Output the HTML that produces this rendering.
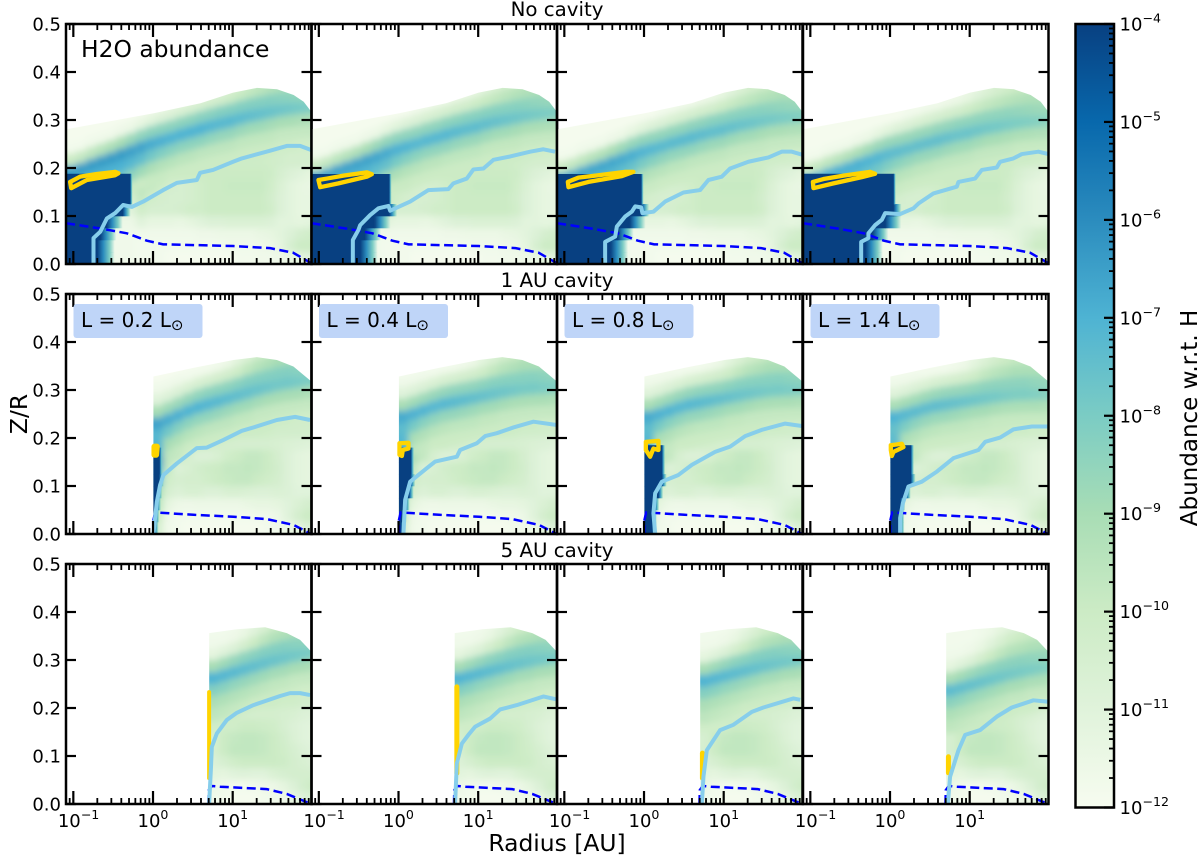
<!DOCTYPE html>
<html lang="en">
<head>
<meta charset="utf-8">
<title>H2O abundance panels</title>
<style>
html,body{margin:0;padding:0;background:#fff;}
svg{display:block;font-family:"DejaVu Sans","Liberation Sans",sans-serif;}
</style>
</head>
<body>
<svg id="figure" xmlns="http://www.w3.org/2000/svg" width="1200" height="856" viewBox="0 0 1200 856">
  <defs id="defs">
    <filter id="heatBlur" filterUnits="userSpaceOnUse" x="0" y="0" width="1200" height="856">
      <feGaussianBlur stdDeviation="3.5"/>
    </filter>
    <linearGradient id="fringeGradient" x1="0" x2="1" y1="0" y2="0">
      <stop offset="0" stop-color="#084081"/>
      <stop offset="0.35" stop-color="#2b8cbe"/>
      <stop offset="0.7" stop-color="#7bccc4"/>
      <stop offset="1" stop-color="#7bccc4" stop-opacity="0"/>
    </linearGradient>
    <linearGradient id="colorbarGradient" x1="0" x2="0" y1="1" y2="0">
      <stop offset="0" stop-color="#f7fcf0"/>
      <stop offset="0.125" stop-color="#e0f3db"/>
      <stop offset="0.25" stop-color="#ccebc5"/>
      <stop offset="0.375" stop-color="#a8ddb5"/>
      <stop offset="0.5" stop-color="#7bccc4"/>
      <stop offset="0.625" stop-color="#4eb3d3"/>
      <stop offset="0.75" stop-color="#2b8cbe"/>
      <stop offset="0.875" stop-color="#0868ac"/>
      <stop offset="1" stop-color="#084081"/>
    </linearGradient>
  </defs>
  <rect x="0" y="0" width="1200" height="856" fill="#ffffff"/>
  <g id="panels"></g>
  <g id="labelBoxes">
    <rect x="73.5" y="304" width="129" height="34" rx="3" fill="#bfd5f8"/>
    <text x="81" y="327" font-size="20" fill="#000">L = 0.2 L<tspan font-size="15" dy="3">⊙</tspan></text>
    <rect x="319" y="304" width="129" height="34" rx="3" fill="#bfd5f8"/>
    <text x="326.5" y="327" font-size="20" fill="#000">L = 0.4 L<tspan font-size="15" dy="3">⊙</tspan></text>
    <rect x="564.5" y="304" width="129" height="34" rx="3" fill="#bfd5f8"/>
    <text x="572" y="327" font-size="20" fill="#000">L = 0.8 L<tspan font-size="15" dy="3">⊙</tspan></text>
    <rect x="810.5" y="304" width="129" height="34" rx="3" fill="#bfd5f8"/>
    <text x="818" y="327" font-size="20" fill="#000">L = 1.4 L<tspan font-size="15" dy="3">⊙</tspan></text>
  </g>
  <text x="81" y="57" font-size="23.4" fill="#000">H2O abundance</text>
  <text x="557" y="16" font-size="19.8" text-anchor="middle" fill="#000">No cavity</text>
  <text x="557" y="287" font-size="19.8" text-anchor="middle" fill="#000">1 AU cavity</text>
  <text x="557" y="557" font-size="19.8" text-anchor="middle" fill="#000">5 AU cavity</text>
  <text x="557" y="851" font-size="23.4" text-anchor="middle" fill="#000">Radius [AU]</text>
  <text x="0" y="0" transform="translate(27,414) rotate(-90)" font-size="23.4" text-anchor="middle" fill="#000">Z/R</text>
  <g id="colorbar"></g>
  <text x="0" y="0" transform="translate(1197,418) rotate(-90)" font-size="23" text-anchor="middle" fill="#000">Abundance w.r.t. H</text>
</svg>
<script>
const colormapStops = ['#f7fcf0','#e0f3db','#ccebc5','#a8ddb5','#7bccc4','#4eb3d3','#2b8cbe','#0868ac','#084081'];
const yTickValues = [0.0,0.1,0.2,0.3,0.4,0.5];
const yTickLabels = ['0.0','0.1','0.2','0.3','0.4','0.5'];
const xMajorExponents = [-1,0,1];
const xMinorDecades = [-2,-1,0,1];
const xMinorMultipliers = [2,3,4,5,6,7,8,9];
const colorbarExponents = [-4,-5,-6,-7,-8,-9,-10,-11,-12];

/* Heatmap background: decades above 1e-12, rows listed from z = 0.2125 down to z = 0.0125 in 0.025 steps. */
const gridStartLogR = [-1.09, 0.0, 0.7];
const noCavityLevels = [
[5,5,5,5,5,5,5,3.5,1.9,1.9,1.9,1.9,1.9,1.9,1.9,1.9,1.9,1.9,1.9,1.9,1.8,1.7,1.6,1.6,1.6],
[6.5,6.5,6.5,6.5,6.5,6.5,6.5,5,3,2.4,2.1,2,2,2,2,2,2,2,2,2,1.9,1.5,1.2,1,.8],
[1.5,1.5,1.5,1.5,1.5,1.5,1.5,2.8,2.2,1.9,1.6,1.5,1.6,1.8,2,2,2.1,2.1,2.1,2.1,1.8,1.3,.9,.7,.6],
[1.5,1.5,1.5,1.5,1.5,1.5,1.5,2.2,1.8,1.6,1.5,1.5,1.6,1.8,2,2,2,2,2,2,1.7,1.2,.9,.7,.7],
[1,1,1,1,1,1,1,1.8,1.5,1.5,1.5,1.6,1.8,1.8,2,2,2,2,2,2,1.8,1.2,.9,.7,.7],
[.5,.5,.5,.5,.5,.5,.5,1,.7,.7,.7,.6,.8,1,1.2,1.2,1.3,1.3,1.3,1.3,1.2,.9,.9,.8,.9],
[.3,.3,.3,.3,.3,.3,.3,.3,.3,.3,.3,.3,.3,.4,.4,.5,.5,.5,.5,.6,.7,.9,1.2,1.6,1.8],
[.3,.3,.3,.3,.3,.3,.3,.2,.2,.2,.2,.2,.2,.2,.2,.2,.3,.3,.3,.4,.5,.8,1.5,2,2],
[.3,.3,.3,.3,.3,.3,.3,.2,.2,.2,.1,.1,.1,.1,.1,.1,.1,.2,.2,.3,.3,.4,.6,.8,1]
];
const oneAuLevels = [
[5.6,3,2.4,2.1,2,1.9,1.9,1.9,1.9,1.9,1.9,1.8,1.7,1.7,1.7,1.7],
[6.2,3.4,2.6,2.2,2,1.7,1.6,1.5,1.5,1.5,1.5,1.5,1.4,1.3,1.2,1.1],
[6,3,2.2,1.5,1.2,1.2,1.4,1.8,2,2.2,2.2,2,1.6,1.2,.9,.8],
[5,2.2,1.2,1.4,1.7,1.9,2,2.2,2.2,2.3,2.2,2,1.7,1.2,.9,.8],
[4.5,1.8,1.5,1.6,1.6,1.8,2,2.1,2.2,2.2,2,1.8,1.6,1.2,.9,.8],
[3,1.5,1.2,1.4,1.4,1.2,1.2,1.4,1.4,1.3,1.2,1.2,1.3,1.2,1,1],
[2.5,.8,.5,.4,.5,.5,.5,.5,.5,.6,.7,.7,.8,1,1.3,1.6],
[2,.4,.2,.2,.2,.2,.2,.2,.2,.2,.3,.3,.5,1,1.6,2],
[1.5,.3,.2,.1,.1,.1,.1,.1,.1,.1,.1,.2,.3,.5,.8,1.2]
];
const fiveAuLevels = [
[2.6,2.4,2.2,2.1,2,1.9,1.9,1.8,1.8,1.7,1.7],
[2.2,2,1.8,1.6,1.6,1.6,1.6,1.5,1.4,1.2,1.1],
[1.8,1.8,1.8,2,2,1.9,1.8,1.5,1.2,1,.9],
[1.5,2,2.2,2.3,2.3,2.2,2,1.7,1.3,1,.9],
[1.5,2,2.3,2.3,2.3,2.2,2,1.8,1.5,1.2,1],
[1.2,1.5,1.8,2,2,2,2,1.9,1.6,1.4,1.2],
[.9,.8,1,1.1,1,1,1.3,1.5,1.6,1.6,1.6],
[.5,.3,.2,.2,.3,.4,.5,.8,1.2,1.7,2],
[.3,.2,.1,.1,.1,.2,.3,.4,.7,1.1,1.4]
];
const rowLevels = [noCavityLevels, oneAuLevels, fiveAuLevels];

/* Bright water band: column-wise ridge height and levels at fixed distances above / below that ridge */
const bandRowOffsets = [.1,.075,.05,.025,0,-.025,-.05,-.075];
const noCavityBandCenter = [.192,.198,.206,.213,.22,.228,.235,.243,.25,.256,.262,.269,.275,.281,.287,.292,.297,.303,.308,.312,.316,.32,.323,.325,.327];
const oneAuBandCenter = [.23,.238,.247,.256,.264,.27,.276,.282,.288,.294,.3,.305,.31,.314,.317,.32];
const fiveAuBandCenter = [.262,.268,.274,.28,.286,.292,.298,.303,.308,.312,.315];
const bandCenters = [noCavityBandCenter, oneAuBandCenter, fiveAuBandCenter];
const noCavityBand = [
[.1,.1,.1,.1,.1,.1,.1,.1,.1,.1,.1,.1,.1,.1,.1,.1,.2,.3,.6,.8,1,1.2,1.3,1.4,1.4],
[.1,.1,.1,.1,.1,.1,.1,.1,.1,.1,.2,.2,.3,.3,.4,.5,.7,1,1.3,1.6,1.8,2,2.1,2.2,2.2],
[.2,.2,.3,.3,.3,.4,.5,.7,.9,1.1,1.2,1.3,1.4,1.5,1.6,1.7,1.9,2.1,2.3,2.5,2.7,2.8,2.9,2.9,2.9],
[2,2.2,2.4,2.6,2.8,3,3.3,3.5,3.6,3.6,3.6,3.6,3.6,3.7,3.7,3.8,3.8,3.8,3.8,3.8,3.8,3.7,3.6,3.5,3.4],
[5.6,5.6,5.6,5.6,5.6,5.6,5.5,5.4,5.2,5.1,5,5,5,5,4.9,4.8,4.8,4.7,4.6,4.5,4.4,4.3,4.2,4.1,4],
[5,5,5,5,5,5,4.8,4.6,4.2,3.9,3.7,3.6,3.6,3.6,3.5,3.4,3.4,3.3,3.2,3.2,3.1,3,3,2.9,2.9],
[4,4,4,4,4,4,3.6,3.2,2.9,2.7,2.6,2.5,2.5,2.4,2.4,2.4,2.4,2.3,2.3,2.3,2.3,2.2,2.2,2.2,2.2],
[2,2,2,2,2,2,2,2,2.1,2.1,2,2,2,2,2,2,2,2,2,2,2,1.9,1.9,1.8,1.8]
];
const oneAuBand = [
[0,0,0,0,0,0,.1,.2,.4,.6,.8,1,1.2,1.4,1.5,1.5],
[.3,.3,.3,.2,.2,.2,.3,.5,.9,1.3,1.7,2,2.2,2.3,2.4,2.4],
[1,1.1,1.2,1.3,1.4,1.5,1.6,1.7,1.9,2.3,2.6,2.8,3,3,3,3],
[3,3.2,3.3,3.4,3.5,3.6,3.6,3.6,3.7,3.8,3.8,3.8,3.8,3.8,3.7,3.6],
[5.4,5.2,5.1,5,5,4.9,4.8,4.7,4.6,4.5,4.4,4.3,4.2,4.2,4.1,4],
[4.8,4.2,3.8,3.6,3.5,3.5,3.4,3.3,3.2,3.2,3.1,3,3,3,3,2.9],
[5,3,2.8,2.6,2.5,2.4,2.4,2.4,2.3,2.3,2.2,2.2,2.2,2.2,2.2,2.2],
[5.6,2.4,2.2,2,2,2,2,2,2,2,2,2,1.9,1.9,1.8,1.8]
];
const fiveAuBand = [
[.2,.2,.2,.3,.5,.8,1,1.2,1.3,1.4,1.4],
[.3,.3,.4,.6,1,1.4,1.8,2,2.1,2.2,2.2],
[.8,1,1.2,1.6,2,2.4,2.7,2.8,2.9,2.9,2.9],
[3,3.2,3.4,3.6,3.7,3.8,3.8,3.8,3.7,3.6,3.5],
[5,4.9,4.8,4.7,4.6,4.5,4.4,4.3,4.2,4.1,4],
[3.8,3.7,3.5,3.4,3.3,3.2,3.1,3.1,3,3,2.9],
[2.9,2.8,2.7,2.6,2.5,2.4,2.3,2.3,2.2,2.2,2.2],
[2.4,2.3,2.2,2.1,2,2,2,1.9,1.9,1.8,1.8]
];
const bandLevels = [noCavityBand, oneAuBand, fiveAuBand];

/* Band strength and vertical drift per panel, per cavity row */
const bandStrength = [[1,.95,.92,.85],[1,.95,.95,.88],[1,1,1,.9]];
const bandDriftInner = [[0,-.012,-.015,-.018],[0,.015,.015,.015],[0,0,-.005,-.025]];
const bandDriftOuter = [[0,-.012,-.02,-.028],[0,-.015,-.02,-.03],[0,-.01,-.015,-.03]];

/* Upper boundary of the computed disk */
const diskTopLogR = [
[-1.09,.009,.595,1.005,1.305,1.556,1.765,1.891,1.988,2.1],
[.005,.507,1.009,1.303,1.554,1.762,1.971,2.1],
[.705,1.052,1.407,1.679,1.846,1.971,2.1]
];
const diskTopZ = [
[.2806,.314,.335,.357,.367,.364,.352,.338,.317,.31],
[.328,.346,.3625,.3685,.3625,.349,.32,.31],
[.356,.364,.3682,.356,.342,.32,.31]
];
const cavityLogR = [null,.005,.705];

/* Saturated water reservoir: outer edge (log R) for each 0.025-thick layer from the midplane up, by panel */
const reservoirEdge = [
[[-.70,-.70,-.66,-.58,-.38,-.287,-.287,-.287],[-.48,-.48,-.42,-.30,-.118,-.118,-.118,-.118],[-.42,-.42,-.33,-.18,-.036,-.036,-.036,-.036],[-.31,-.31,-.22,-.06,.043,.043,.043,.043]],
[[.01,.02,.04,.055,.075,.08,.08,.08],[.03,.04,.08,.13,.15,.155,.155,.155],[.1,.1,.13,.18,.224,.224,.224,.224],[.12,.12,.13,.2,.26,.26,.26,.26]],
[null,null,null,null]
];
const reservoirFringe = [
[.22,.22,.2,.2,.1,.03,.03,.03],
[.06,.06,.06,.06,.06,.04,.04,.04],
[0,0,0,0,0,0,0,0]
];
const reservoirTop = [[.188,.1875,.1875,.188],[.18,.18,.185,.185],[0,0,0,0]];

/* Contour: light blue line */
const skyLineLogR = [
[[-.747,-.747,-.663,-.579,-.475,-.375,-.266,-.124,.127,.299,.55,.591,.754,1.005,1.115,1.47,1.679,1.846,1.984],
 [-.573,-.573,-.503,-.481,-.356,-.252,-.126,-.105,.146,.375,.626,.689,.857,.94,1.066,1.191,1.401,1.652,1.818,1.965],
 [-.488,-.488,-.362,-.341,-.237,-.153,-.111,-.036,-.02,.118,.265,.495,.704,.808,.976,1.081,1.31,1.561,1.729,1.855,1.997],
 [-.362,-.362,-.271,-.271,-.187,-.103,-.061,.127,.294,.357,.545,.838,.859,1.068,1.152,1.34,1.382,1.549,1.654,1.862,1.988]],
[[.005,.048,.089,.131,.299,.55,.675,.884,1.115,1.26,1.554,1.783,1.971],
 [.062,.083,.146,.355,.46,.732,.773,.983,1.087,1.234,1.442,1.693,1.987],
 [.14,.118,.14,.224,.432,.6,.892,1.081,1.269,1.478,1.771,1.98],
 [.127,.127,.161,.231,.399,.588,.796,1.11,1.194,1.382,1.549,1.78,1.988]],
[[.704,.726,.738,.801,.926,1.052,1.26,1.595,1.72,1.846,1.971],
 [.71,.732,.795,.877,.961,1.15,1.275,1.485,1.818,1.978],
 [.726,.746,.788,.955,1.122,1.353,1.498,1.875,1.96],
 [.726,.754,.859,.943,1.131,1.34,1.528,1.8,1.988]]
];
const skyLineZ = [
[[.002,.054,.067,.095,.106,.123,.119,.13,.154,.169,.175,.19,.196,.213,.22,.236,.246,.246,.2375],
 [.001,.05,.071,.081,.102,.116,.121,.111,.13,.154,.156,.168,.178,.197,.199,.217,.224,.234,.239,.234],
 [.001,.046,.057,.078,.099,.109,.12,.118,.106,.109,.13,.149,.154,.175,.182,.199,.213,.222,.234,.234,.227],
 [.001,.046,.054,.064,.081,.092,.106,.104,.116,.126,.147,.161,.171,.178,.196,.201,.213,.22,.229,.234,.229]],
[[.001,.067,.102,.123,.147,.179,.18,.196,.215,.222,.2375,.244,.2375],
 [.001,.071,.109,.137,.151,.161,.175,.189,.204,.21,.222,.234,.227],
 [.001,.043,.085,.109,.123,.144,.171,.182,.204,.217,.23,.225],
 [.001,.033,.064,.099,.109,.13,.158,.175,.192,.201,.218,.224,.224]],
[[.001,.071,.119,.147,.175,.19,.206,.225,.231,.231,.227],
 [.001,.085,.126,.144,.161,.178,.197,.206,.224,.218],
 [.001,.057,.112,.154,.165,.192,.201,.22,.217],
 [.001,.057,.112,.144,.154,.182,.201,.216,.213]]
];

/* Dashed blue line, shared in each cavity row */
const dashLogR = [
[-1.09,-.663,-.329,-.077,.127,1.005,1.47,1.758,1.984],
[.005,.005,.027,.507,1.009,1.428,1.762,1.971],
[.696,.70,.738,.842,1.428,1.679,1.971]
];
const dashZ = [
[.085,.074,.064,.0486,.041,.0375,.033,.0235,.002],
[0,.029,.045,.04,.036,.031,.019,.001],
[0,.029,.0375,.036,.031,.021,.001]
];

/* Yellow contour per panel */
const goldLogR = [
[[-1.04,-1.027,-.83,-.475,-.434,-.475,-.705,-.914],
 [-1.005,-.983,-.754,-.397,-.335,-.397,-.691,-.899],
 [-.956,-.948,-.697,-.278,-.133,-.237,-.572,-.823],
 [-.968,-.961,-.71,-.354,-.187,-.249,-.584,-.835]],
[[.018,.048,.039,.018],
 [.012,.125,.125,.054,.042,.012],
 [.023,.181,.181,.118,.077,.023],
 [.01,.148,.169,.043,.023,.01]],
[[.704,.704],[.732,.732],[.733,.733],[.733,.733]]
];
const goldZ = [
[[.171,.158,.175,.185,.189,.192,.1875,.182],
 [.175,.16,.168,.182,.187,.191,.184,.178],
 [.171,.16,.171,.183,.192,.192,.185,.18],
 [.171,.158,.168,.181,.188,.192,.184,.177]],
[[.182,.182,.165,.165],
 [.189,.19,.178,.175,.1625,.165],
 [.192,.194,.175,.178,.161,.175],
 [.185,.188,.181,.171,.1625,.175]],
[[.233,.054],[.244,.064],[.106,.054],[.0985,.065]]
];
const goldWidth = [[4.3,4.3,4.3,4.3],[6,4.3,4.3,4.3],[4,5,5,5]];
const goldClosed = [true,true,false];

/* Layout */
const panelLefts = [66,311.5,557,803];
const panelWidth = 245.5;
const rowBottoms = [264,534,804];
const panelHeight = 240;
const xLogMin = -1.092, xLogMax = 1.989, zMax = 0.5;
const gridStepLogR = 0.125, gridStepZ = 0.025;
const NS = 'http://www.w3.org/2000/svg';

function xAxis(col, logR){ return panelLefts[col] + (logR - xLogMin) / (xLogMax - xLogMin) * panelWidth; }
function yAxis(row, z){ return rowBottoms[row] - z / zMax * panelHeight; }
function levelColor(level){
  const l = Math.max(0, Math.min(colormapStops.length - 1, level));
  const i = Math.min(colormapStops.length - 2, Math.floor(l));
  const f = l - i;
  const a = colormapStops[i], b = colormapStops[i + 1];
  const out = [1,3,5].map(function(p){
    const va = parseInt(a.substr(p,2),16), vb = parseInt(b.substr(p,2),16);
    return Math.round(va + (vb - va) * f);
  });
  return 'rgb(' + out.join(',') + ')';
}
function make(tag, attrs, parent){
  const el = document.createElementNS(NS, tag);
  for (const k in attrs) el.setAttribute(k, attrs[k]);
  parent.appendChild(el);
  return el;
}
const defs = document.getElementById('defs');
const panelsRoot = document.getElementById('panels');

function linePoints(row, col, xs, zs){
  return xs.map(function(v, i){ return xAxis(col, v).toFixed(2) + ',' + yAxis(row, zs[i]).toFixed(2); }).join(' ');
}

function drawHeatmap(row, col, parent){
  const grid = rowLevels[row];
  const start = gridStartLogR[row];
  const clip = make('clipPath', {id: 'disk-clip-' + row + '-' + col}, defs);
  const poly = linePoints(row, col, diskTopLogR[row], diskTopZ[row]);
  const firstX = xAxis(col, diskTopLogR[row][0]).toFixed(2);
  const lastX = xAxis(col, diskTopLogR[row][diskTopLogR[row].length - 1]).toFixed(2);
  const bottom = (rowBottoms[row] + 10).toFixed(2);
  make('polygon', {points: firstX + ',' + bottom + ' ' + poly + ' ' + lastX + ',' + bottom}, clip);
  const clipGroup = make('g', {'clip-path': 'url(#disk-clip-' + row + '-' + col + ')'}, parent);
  
  
  const blurGroup = make('g', {filter: 'url(#heatBlur)'}, clipGroup);
  const rows = grid.length;
  const cols = grid[0].length;
  const span = xLogMax - start;
  const strength = bandStrength[row][col];

  /* background cells */
  for (let r = 0; r < rows; r++){
    const k = rows - 1 - r;
    const zCenter = (k + 0.5) * gridStepZ;
    for (let c = 0; c < cols; c++){
      const logA = start + c * gridStepLogR;
      let x0 = xAxis(col, logA), x1 = xAxis(col, logA + gridStepLogR);
      if (c === 0) x0 -= 14;
      if (c === cols - 1) x1 += 14;
      let yTop = yAxis(row, zCenter + gridStepZ / 2);
      let yBot = yAxis(row, zCenter - gridStepZ / 2) + 0.6;
      if (r === 0) yTop -= 80;
      if (k === 0) yBot += 14;
      const rect = make('rect', {x: x0.toFixed(2), y: yTop.toFixed(2), width: (x1 - x0 + 0.6).toFixed(2), height: (yBot - yTop).toFixed(2), fill: levelColor(grid[r][c])}, blurGroup);
      
      
    }
  }

  /* band cells follow the ridge in each column */
  const band = bandLevels[row];
  const centers = bandCenters[row];
  band.forEach(function(bandRow, r){
    bandRow.forEach(function(value, c){
      const logA = start + c * gridStepLogR;
      const logB = logA + gridStepLogR;
      const t = ((logA + logB) / 2 - start) / span;
      const drift = bandDriftInner[row][col] + (bandDriftOuter[row][col] - bandDriftInner[row][col]) * t;
      const level = value > 2 ? 2 + (value - 2) * strength : value;
      const zMid = centers[c] + bandRowOffsets[r] + drift;
      let x0 = xAxis(col, logA), x1 = xAxis(col, logB);
      if (c === 0) x0 -= 14;
      if (c === bandRow.length - 1) x1 += 14;
      let yTop = yAxis(row, zMid + gridStepZ / 2);
      const yBot = yAxis(row, zMid - gridStepZ / 2) + 0.6;
      if (r === 0) yTop -= 60;
      const rect = make('rect', {x: x0.toFixed(2), y: yTop.toFixed(2), width: (x1 - x0 + 0.6).toFixed(2), height: (yBot - yTop).toFixed(2), fill: levelColor(level)}, blurGroup);
      
      
    });
  });
}

function drawReservoir(row, col, parent){
  const edges = reservoirEdge[row][col];
  if (!edges) return;
  const top = reservoirTop[row][col];
  const inner = cavityLogR[row] === null ? xLogMin : cavityLogR[row];
  edges.forEach(function(edge, j){
    const z0 = j * gridStepZ;
    const z1 = Math.min((j + 1) * gridStepZ, top);
    const x0 = xAxis(col, inner), x1 = xAxis(col, edge);
    const y0 = yAxis(row, z1), y1 = yAxis(row, z0);
    const dark = make('rect', {x: x0.toFixed(2), y: y0.toFixed(2), width: Math.max(0, x1 - x0 + 0.3).toFixed(2), height: (y1 - y0 + 0.3).toFixed(2), fill: colormapStops[8]}, parent);
    
    
    const fringeWidth = xAxis(col, edge + reservoirFringe[row][j]) - x1;
    const fringe = make('rect', {x: x1.toFixed(2), y: y0.toFixed(2), width: fringeWidth.toFixed(2), height: (y1 - y0 + 0.3).toFixed(2), fill: 'url(#fringeGradient)'}, parent);
    
    
  });
}

function drawAxesFrame(row, col, parent){
  const left = panelLefts[col], right = left + panelWidth;
  const bottom = rowBottoms[row], top = bottom - panelHeight;
  yTickValues.forEach(function(v){
    const y = yAxis(row, v);
    const tl = make('line', {x1: left, x2: left + 10, y1: y, y2: y, stroke: '#000', 'stroke-width': 2.2}, parent);
    
    
    const tr = make('line', {x1: right - 10, x2: right, y1: y, y2: y, stroke: '#000', 'stroke-width': 2.2}, parent);
    
    
  });
  xMajorExponents.forEach(function(e){
    const x = xAxis(col, e);
    const bt = make('line', {x1: x, x2: x, y1: bottom, y2: bottom - 13, stroke: '#000', 'stroke-width': 2.2}, parent);
    
    
    const tt = make('line', {x1: x, x2: x, y1: top, y2: top + 13, stroke: '#000', 'stroke-width': 2.2}, parent);
    
    
  });
  xMinorDecades.forEach(function(d){
    xMinorMultipliers.forEach(function(m){
      const logR = d + Math.log10(m);
      if (logR < xLogMin || logR > xLogMax) return;
      const x = xAxis(col, logR);
      const bm = make('line', {x1: x, x2: x, y1: bottom, y2: bottom - 6, stroke: '#000', 'stroke-width': 1.8}, parent);
      
      
      const tm = make('line', {x1: x, x2: x, y1: top, y2: top + 6, stroke: '#000', 'stroke-width': 1.8}, parent);
      
      
    });
  });
  const frame = make('rect', {x: left, y: top, width: panelWidth, height: panelHeight, fill: 'none', stroke: '#000', 'stroke-width': 2.5}, parent);
  
  
}

function exponentLabel(parent, x, y, exponent, anchor, name){
  const label = make('text', {x: x, y: y, 'font-size': 18, fill: '#000', 'text-anchor': anchor}, parent);
  
  
  const base = make('tspan', {}, label);
  base.textContent = '10';
  const sup = make('tspan', {'font-size': 12.6, dy: -8}, label);
  sup.textContent = (exponent < 0 ? '\u2212' + (-exponent) : String(exponent));
}

function drawPanel(row, col){
  const g = make('g', {}, panelsRoot);
  
  
  const clipId = 'axes-clip-' + row + '-' + col;
  const clip = make('clipPath', {id: clipId}, defs);
  make('rect', {x: panelLefts[col], y: rowBottoms[row] - panelHeight, width: panelWidth, height: panelHeight}, clip);
  const inner = make('g', {'clip-path': 'url(#' + clipId + ')'}, g);
  drawHeatmap(row, col, inner);
  drawReservoir(row, col, inner);

  const dash = make('polyline', {points: linePoints(row, col, dashLogR[row], dashZ[row]), fill: 'none', stroke: '#0000ff', 'stroke-width': 2.5, 'stroke-dasharray': '9 4.5'}, inner);
  
  

  const goldTag = goldClosed[row] ? 'polygon' : 'polyline';
  const gold = make(goldTag, {points: linePoints(row, col, goldLogR[row][col], goldZ[row][col]), fill: 'none', stroke: '#ffd400', 'stroke-width': goldWidth[row][col], 'stroke-linejoin': 'round', 'stroke-linecap': 'round'}, inner);
  
  

  const sky = make('polyline', {points: linePoints(row, col, skyLineLogR[row][col], skyLineZ[row][col]), fill: 'none', stroke: '#87ceeb', 'stroke-width': 4, 'stroke-linejoin': 'round'}, inner);
  
  

  drawAxesFrame(row, col, g);

  if (col === 0){
    yTickValues.forEach(function(v, i){
      const t = make('text', {x: 61, y: yAxis(row, v) + 6.5, 'font-size': 18, 'text-anchor': 'end', fill: '#000'}, g);
      
      
      t.textContent = yTickLabels[i];
    });
  }
  if (row === rowBottoms.length - 1){
    xMajorExponents.forEach(function(e){
      exponentLabel(g, xAxis(col, e) - 15.5, 827, e, 'start', 'x-tick-label');
    });
  }
}

for (let row = 0; row < rowBottoms.length; row++){
  for (let col = 0; col < panelLefts.length; col++){
    drawPanel(row, col);
  }
}

function drawColorbar(){
  const g = document.getElementById('colorbar');
  const left = 1075.5, right = 1114, top = 24, bottom = 807.5;
  const decade = (bottom - top) / (colorbarExponents.length - 1);
  const body = make('rect', {x: left, y: top, width: right - left, height: bottom - top, fill: 'url(#colorbarGradient)'}, g);
  
  
  colorbarExponents.forEach(function(e, i){
    const y = top + i * decade;
    const major = make('line', {x1: right - 10, x2: right, y1: y, y2: y, stroke: '#000', 'stroke-width': 2.2}, g);
    
    
    exponentLabel(g, 1119.5, y + 6.5, e, 'start', 'colorbar-tick-label');
    if (i < colorbarExponents.length - 1){
      xMinorMultipliers.forEach(function(m){
        const ym = y + decade - Math.log10(m) * decade;
        const minor = make('line', {x1: right - 5, x2: right, y1: ym, y2: ym, stroke: '#000', 'stroke-width': 1.8}, g);
        
        
      });
    }
  });
  const frame = make('rect', {x: left, y: top, width: right - left, height: bottom - top, fill: 'none', stroke: '#000', 'stroke-width': 2.5}, g);
  
  
}
drawColorbar();
</script>
</body>
</html>
